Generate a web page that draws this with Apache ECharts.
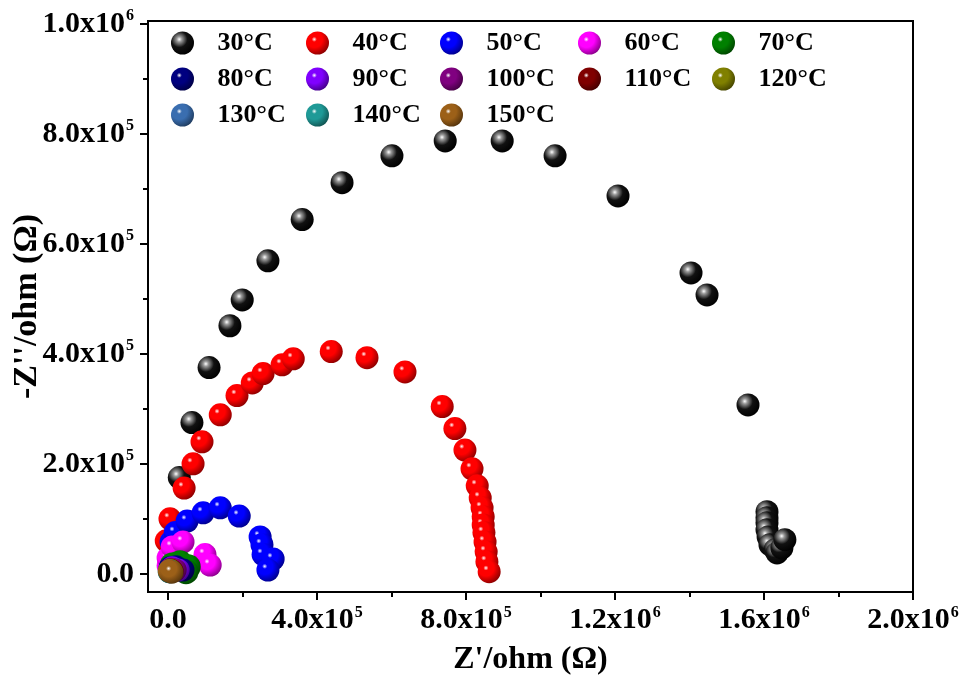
<!DOCTYPE html>
<html>
<head>
<meta charset="utf-8">
<script src="https://cdn.jsdelivr.net/npm/echarts@6/dist/echarts.min.js"></script>
</head>
<body style="margin:0;background:#fff">
<div id="main" style="width:961px;height:677px;"></div>
<script type="text/javascript">
// temperatures and colours of each series
var temps = ['30°C','40°C','50°C','60°C','70°C','80°C','90°C','100°C','110°C','120°C','130°C','140°C','150°C']
var cols = ['#000000','#ff0000','#0000ff','#ff00ff','#008000','#000080','#8000ff','#800080','#800000','#808000','#3a6eb0','#1f9a97','#9c6018']

// Z' , -Z''
var d30 = [[30000,175000],[64000,275000],[110000,375000],[166000,451000],[199000,498000],[268000,569000],[360000,644000],[467000,711000],[601000,760000],[744000,787000],[897000,787000],[1039000,760000],[1208000,687000],[1404000,547000],[1447000,507000],[1557000,307000],[1608000,113000],[1608000,102000],[1608000,93000],[1608000,80000],[1611000,67000],[1616000,53000],[1630000,44000],[1635000,38000],[1648000,47000],[1656000,62000]]
var d40 = [[-5000,60000],[5000,100000],[43000,156000],[67000,200000],[91000,240000],[140000,289000],[185000,324000],[226000,347000],[255000,364000],[306000,380000],[336000,391000],[438000,404000],[534000,393000],[636000,367000],[736000,304000],[770000,264000],[797000,225000],[816000,191000],[830000,160000],[838000,138000],[843000,120000],[846000,104000],[846000,89000],[848000,75000],[851000,58000],[854000,40000],[856000,22000],[862000,4000]]
var d50 = [[8000,58000],[19000,75000],[51000,96000],[94000,111000],[140000,120000],[191000,105000],[247000,67000],[252000,53000],[255000,35000],[282000,27000],[268000,7000]]
var d60 = [[0,15000],[0,29000],[11000,49000],[40000,58000],[99000,35000],[113000,16000]]
var d70 = [[11000,16000],[32000,20000],[54000,13000],[48000,4000]]
var d80 = [[5000,11000],[21000,13000],[40000,7000]]
var d90 = [[11000,11000],[27000,7000]]
var d100 = [[8000,9000],[19000,7000]]
var d110 = [[6000,7000],[11000,5000]]
var d120 = [[5000,6000],[8000,5000]]
var d130 = [[4000,5000],[5000,4000]]
var d140 = [[3000,4000],[4000,4000]]
var d150 = [[3000,5000],[10000,3000]]
var allData = [d30,d40,d50,d60,d70,d80,d90,d100,d110,d120,d130,d140,d150]

var xMajor = [0,400000,800000,1200000,1600000,2000000]
var xMinor = [200000,600000,1000000,1400000,1800000]
var yMajor = [0,200000,400000,600000,800000,1000000]
var yMinor = [100000,300000,500000,700000,900000]

var legendCols = [['30°C','80°C','130°C'],['40°C','90°C','140°C'],['50°C','100°C','150°C'],['60°C','110°C'],['70°C','120°C']]
var legendLeft = [166, 301, 435, 573, 707]

function darker(hex, f){
	var r = parseInt(hex.substr(1,2),16), g = parseInt(hex.substr(3,2),16), b = parseInt(hex.substr(5,2),16)
	return 'rgb(' + Math.round(r*f) + ',' + Math.round(g*f) + ',' + Math.round(b*f) + ')'
}
function ball(hex){
	return {
		type: 'radial', x: 0.36, y: 0.34, r: 0.7,
		colorStops: [
			{offset: 0, color: '#ffffff'},
			{offset: 0.16, color: hex == '#000000' ? '#999999' : hex},
			{offset: 0.5, color: hex == '#000000' ? '#111111' : hex},
			{offset: 1, color: darker(hex, 0.55)}
		]
	}
}
function sciLabel(v){
	if (v === 0) return '0.0'
	var e = Math.floor(Math.log10(v) + 1e-9)
	var m = (v / Math.pow(10, e)).toFixed(1)
	return m + 'x10{sup|' + e + '}'
}
var font = 'Liberation Serif'
var labRich = {
	sup: {fontSize: 16, fontWeight: 'bold', fontFamily: font, color: '#000', padding: [0, 0, 15, 1]}
}

var series = []
for (var i = 0; i < temps.length; i++){
	series.push({
		name: temps[i],
		type: 'scatter',
		xAxisIndex: 0,
		yAxisIndex: 0,
		symbol: 'circle',
		symbolSize: i == 4 ? 25 : 23,
		data: allData[i],
		itemStyle: {color: ball(cols[i]), opacity: 1},
		emphasis: {disabled: true},
		z: 2
	})
}

var legends = []
for (var c = 0; c < legendCols.length; c++){
	legends.push({
		data: legendCols[c],
		orient: 'vertical',
		left: legendLeft[c],
		top: 25,
		itemWidth: 60,
		itemHeight: 23,
		itemGap: 10,
		icon: 'circle',
		textStyle: {fontFamily: font, fontWeight: 'bold', fontSize: 26, color: '#000'}
	})
}

var myChart = echarts.init(document.getElementById('main'))
option = {
	animation: false,
	backgroundColor: '#fff',
	grid: {left: 148, right: 48, top: 21, bottom: 85, show: true, borderColor: '#000', borderWidth: 2,
		containLabel: false, outerBoundsMode: 'none'},
	legend: legends,
	xAxis: [{
		type: 'value', position: 'bottom', min: -54000, max: 2000000,
		splitLine: {show: false},
		axisLine: {show: true, onZero: false, lineStyle: {color: '#000', width: 2}},
		axisTick: {show: true, length: 8, customValues: xMajor, lineStyle: {color: '#000', width: 2}},
		axisLabel: {customValues: xMajor, formatter: sciLabel, rich: labRich, margin: 13,
			fontFamily: font, fontWeight: 'bold', fontSize: 30, color: '#000'},
		name: "Z'/ohm (Ω)", nameLocation: 'middle', nameGap: 52, nameMoveOverlap: false,
		nameTextStyle: {fontFamily: font, fontWeight: 'bold', fontSize: 32, color: '#000'}
	}, {
		type: 'value', position: 'bottom', min: -54000, max: 2000000,
		splitLine: {show: false},
		axisLine: {show: false, onZero: false},
		axisTick: {show: true, length: 5, customValues: xMinor, lineStyle: {color: '#000', width: 2}},
		axisLabel: {show: false, customValues: xMinor}
	}],
	yAxis: [{
		type: 'value', position: 'left', min: -33000, max: 1005000,
		splitLine: {show: false},
		axisLine: {show: true, onZero: false, lineStyle: {color: '#000', width: 2}},
		axisTick: {show: true, length: 8, customValues: yMajor, lineStyle: {color: '#000', width: 2}},
		axisLabel: {customValues: yMajor, formatter: sciLabel, rich: labRich, margin: 14,
			fontFamily: font, fontWeight: 'bold', fontSize: 30, color: '#000'},
		name: "-Z''/ohm (Ω)", nameLocation: 'middle', nameGap: 104, nameMoveOverlap: false,
		nameTextStyle: {fontFamily: font, fontWeight: 'bold', fontSize: 34, color: '#000'}
	}, {
		type: 'value', position: 'left', min: -33000, max: 1005000,
		splitLine: {show: false},
		axisLine: {show: false, onZero: false},
		axisTick: {show: true, length: 5, customValues: yMinor, lineStyle: {color: '#000', width: 2}},
		axisLabel: {show: false, customValues: yMinor}
	}],
	series: series
}
myChart.setOption(option)
</script>
</body>
</html>
